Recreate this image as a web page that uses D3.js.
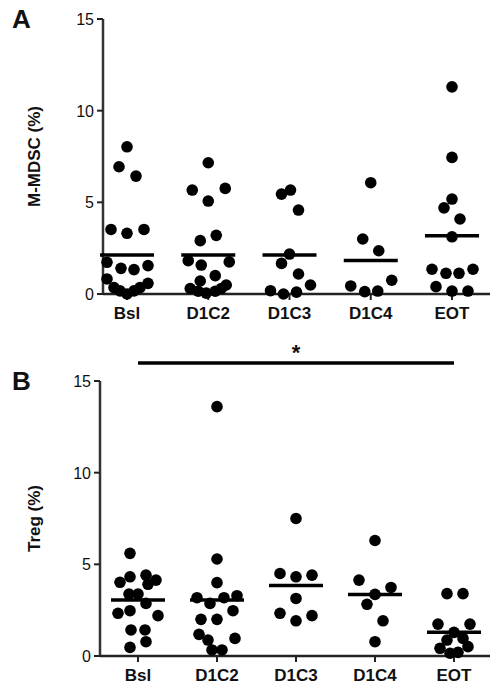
<!DOCTYPE html>
<html>
<head>
<meta charset="utf-8">
<script src="https://cdn.jsdelivr.net/npm/d3@7"></script>
<style>
  body { margin: 0; background: #fff; }
  text { font-family: "Liberation Sans", Arial, sans-serif; font-weight: bold; fill: #111; }
</style>
</head>
<body>
<svg id="chart" width="490" height="686"></svg>
<script>
const categories = ['Bsl', 'D1C2', 'D1C3', 'D1C4', 'EOT'];
const yTicks = [0, 5, 10, 15];

// panel A: M-MDSC (%)
const mdscValues = [
    [8.03, 6.94, 6.43, 3.52, 3.31, 3.52, 1.73, 1.40, 1.33, 1.55, 0.82, 0.58, 0.35, 0.17, 0.0, 0.17, 0.35],
    [7.16, 5.67, 5.76, 5.07, 2.91, 3.2, 1.82, 1.58, 1.75, 1.0, 0.71, 0.49, 0.3, 0.15, 0.05, 0.15, 0.3],
    [5.45, 5.67, 4.58, 2.18, 1.67, 1.09, 0.49, 0.18, 0.0, 0.1],
    [6.07, 3.0, 2.36, 0.75, 0.44, 0.13, 0.16],
    [11.3, 7.45, 5.18, 4.70, 4.09, 3.12, 1.35, 1.13, 1.13, 1.35, 0.4, 0.16, 0.16]
];
const mdscJitter = [
    [0, -8, 9, -16, 0, 17, -20, -6, 7, 21, -20, 21, -13, -7, 0, 7, 13],
    [0, -16, 17, 0, -8, 8, -20, -7, 21, 7, -8, 18, -18, -10, -2, 7, 13],
    [-8, 1, 9, 0, -8, 9, 21, -19, -6, 7],
    [0, -8, 8, 21, -20, -6, 7],
    [0, 0, 0, -8, 8, 0, -20, -6, 7, 21, -16, 0, 16]
];
const mdscMeans = [2.13, 2.13, 2.13, 1.83, 3.18];

// panel B: Treg (%)
const tregValues = [
    [5.6, 4.02, 4.32, 4.41, 4.14, 3.91, 3.38, 3.38, 2.87, 2.33, 2.47, 2.2, 1.42, 1.42, 0.78, 0.47],
    [13.6, 5.29, 4.0, 3.18, 2.87, 3.18, 3.29, 2.47, 2.0, 2.0, 1.18, 0.87, 0.96, 0.33, 0.33],
    [7.5, 4.5, 4.32, 4.41, 3.14, 2.33, 2.2, 1.92],
    [6.3, 4.14, 3.74, 3.36, 2.82, 1.92, 0.78],
    [3.4, 3.4, 1.74, 1.74, 1.29, 0.87, 0.96, 0.42, 0.51, 0.15, 0.2]
];
const tregJitter = [
    [-8, -18, -8, 8, 18, 10, -9, 0, 8, -20, -8, 20, -7, 7, 8, -8],
    [0, 0, 0, -20, -7, 7, 20, 16, -16, 0, -18, -9, 18, -5, 5],
    [0, -16, 0, 16, 0, -16, 16, 0],
    [0, -16, 16, 0, -8, 8, 0],
    [-7, 9, -16, 16, 0, -7, 9, -14, 14, -4, 4]
];
const tregMeans = [3.05, 3.05, 3.85, 3.35, 1.3];

const svg = d3.select('#chart');

function drawPanel(opt) {
    const x = d3.scalePoint().domain(categories).range(opt.xRange);
    const y = d3.scaleLinear().domain([0, 15]).range(opt.yRange);
    const g = svg.append('g');

    // axes
    g.append('line')
        .attr('x1', opt.axisX).attr('x2', opt.axisX)
        .attr('y1', y(15)).attr('y2', y(0))
        .attr('stroke', '#333').attr('stroke-width', 2.5);
    g.append('line')
        .attr('x1', opt.axisX).attr('x2', 490)
        .attr('y1', y(0)).attr('y2', y(0))
        .attr('stroke', '#222').attr('stroke-width', 2.5);

    yTicks.forEach(t => {
        g.append('line')
            .attr('x1', opt.axisX - 6).attr('x2', opt.axisX)
            .attr('y1', y(t)).attr('y2', y(t))
            .attr('stroke', '#222').attr('stroke-width', 2);
        g.append('text')
            .attr('x', opt.axisX - 9).attr('y', y(t) + 6)
            .attr('text-anchor', 'end').attr('font-size', 16)
            .style('font-weight', 'normal')
            .text(t);
    });

    categories.forEach(c => {
        g.append('line')
            .attr('x1', x(c)).attr('x2', x(c))
            .attr('y1', y(0)).attr('y2', y(0) + 6)
            .attr('stroke', '#222').attr('stroke-width', 2);
        g.append('text')
            .attr('x', x(c)).attr('y', y(0) + 25)
            .attr('text-anchor', 'middle').attr('font-size', 17)
            .text(c);
    });

    g.append('text')
        .attr('transform', `translate(${opt.labelX},${(y(0) + y(15)) / 2}) rotate(-90)`)
        .attr('text-anchor', 'middle').attr('font-size', 17)
        .text(opt.label);

    g.append('text')
        .attr('x', 12).attr('y', y(15) + 9)
        .attr('font-size', 26)
        .text(opt.letter);

    // points
    categories.forEach((c, i) => {
        g.append('g')
            .selectAll('circle')
            .data(opt.values[i])
            .join('circle')
            .attr('cx', (d, j) => x(c) + opt.jitter[i][j])
            .attr('cy', d => y(d))
            .attr('r', 5.8)
            .attr('fill', '#000');
        g.append('line')
            .attr('x1', x(c) - 27).attr('x2', x(c) + 27)
            .attr('y1', y(opt.means[i])).attr('y2', y(opt.means[i]))
            .attr('stroke', '#000').attr('stroke-width', 3.5);
    });

    return { x, y, g };
}

drawPanel({
    letter: 'A', label: 'M-MDSC (%)',
    values: mdscValues, jitter: mdscJitter, means: mdscMeans,
    xRange: [127, 452], yRange: [294, 19], axisX: 103, labelX: 40
});

const b = drawPanel({
    letter: 'B', label: 'Treg (%)',
    values: tregValues, jitter: tregJitter, means: tregMeans,
    xRange: [138, 454], yRange: [656, 381], axisX: 100, labelX: 40
});

// significance bar Bsl vs EOT
b.g.append('line')
    .attr('x1', b.x('Bsl')).attr('x2', b.x('EOT'))
    .attr('y1', 363).attr('y2', 363)
    .attr('stroke', '#000').attr('stroke-width', 3.5);
b.g.append('text')
    .attr('x', (b.x('Bsl') + b.x('EOT')) / 2).attr('y', 360)
    .attr('text-anchor', 'middle').attr('font-size', 22)
    .text('*');
</script>
</body>
</html>
